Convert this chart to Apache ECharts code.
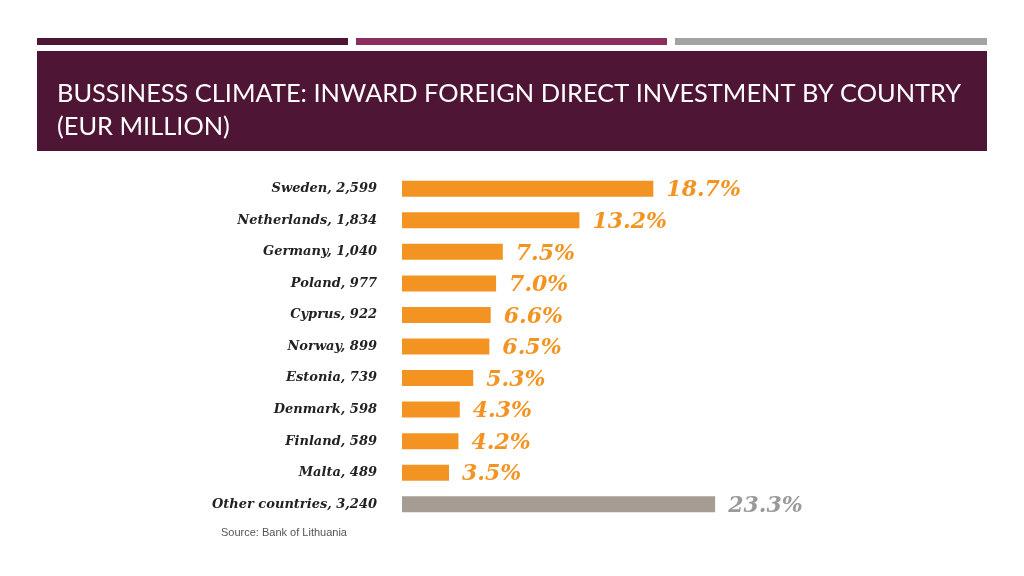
<!DOCTYPE html>
<html><head><meta charset="utf-8">
<script src="https://cdn.jsdelivr.net/npm/echarts@6/dist/echarts.min.js"></script>
<style>html,body{margin:0;padding:0;background:#fff}#c{width:1024px;height:576px}</style>
</head><body><div id="c"></div>
<script>
var countries = ['Sweden','Netherlands','Germany','Poland','Cyprus','Norway','Estonia','Denmark','Finland','Malta','Other countries'];
var amounts = ['2,599','1,834','1,040','977','922','899','739','598','589','489','3,240'];
var shares = [18.7,13.2,7.5,7.0,6.6,6.5,5.3,4.3,4.2,3.5,23.3];
var titleText = 'BUSSINESS CLIMATE: INWARD FOREIGN DIRECT INVESTMENT BY COUNTRY\n(EUR MILLION)';
var sourceText = 'Source: Bank of Lithuania';

var categories = countries.map(function(c,i){return c + ', ' + amounts[i];});
var ORANGE = '#f39422', GREY = '#a59c94';
var chart = echarts.init(document.getElementById('c'));
chart.setOption({
  animation:false,
  graphic:[
    {type:'rect',shape:{x:37,y:38,width:311,height:7},style:{fill:'#4f1535'}},
    {type:'rect',shape:{x:356,y:38,width:311,height:7},style:{fill:'#8c2d60'}},
    {type:'rect',shape:{x:675,y:38,width:312,height:7},style:{fill:'#a3a3a3'}},
    {type:'rect',shape:{x:37,y:51,width:950,height:100},style:{fill:'#4f1535'}},
    {type:'text',left:57,top:77,style:{text:titleText,fill:'#ffffff',font:'25.4px Lato',lineHeight:33}},
    {type:'text',left:221,top:527,style:{text:sourceText,fill:'#555555',font:'11px "Liberation Sans"'}}
  ],
  grid:{left:402,top:173,width:336,height:347,containLabel:false},
  xAxis:{type:'value',min:0,max:25,show:false},
  yAxis:{type:'category',data:categories,inverse:true,
    axisLine:{show:false},axisTick:{show:false},
    axisLabel:{margin:25,color:'#222',fontFamily:'DejaVu Serif',fontStyle:'italic',fontWeight:'bold',fontSize:13}},
  series:[{type:'bar',barWidth:16,
    data:shares.map(function(v,i){return {value:v,itemStyle:{color:i===shares.length-1?GREY:ORANGE},
      label:{color:i===shares.length-1?'#9a9a9a':ORANGE}};}),
    label:{show:true,position:'right',distance:13,offset:[0,2],fontFamily:'DejaVu Serif',fontStyle:'italic',fontWeight:'bold',fontSize:22,
      formatter:function(p){return p.value.toFixed(1)+'%';}}
  }]
});
</script></body></html>
